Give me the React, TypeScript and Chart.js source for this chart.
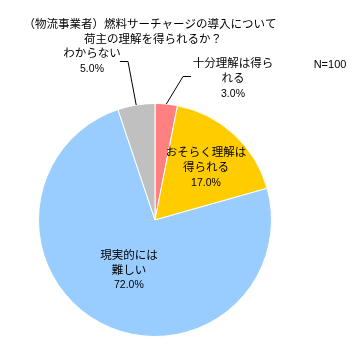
import React, { useEffect, useRef } from "react";
import { Chart, registerables } from "chart.js";

Chart.register(...registerables);

const categories = ["十分理解は得られる", "おそらく理解は得られる", "現実的には難しい", "わからない"];
const values = [3.0, 17.0, 72.0, 5.0];
const colors = ["#FF8080", "#FFCC00", "#99CCFF", "#C0C0C0"];
const titleLines = ["（物流事業者）燃料サーチャージの導入について", "荷主の理解を得られるか？"];
const labelLines = [
  ["十分理解は得ら", "れる"],
  ["おそらく理解は", "得られる"],
  ["現実的には", "難しい"],
  ["わからない"],
];
const note = "N=100";

const FONT = '"Noto Sans CJK JP", "Noto Sans", sans-serif';
const NUMFONT = '"Liberation Sans", Arial, sans-serif';

const textPlugin = {
  id: "texts",
  afterDraw(chart: any) {
    const ctx = chart.ctx;
    const meta = chart.getDatasetMeta(0);
    ctx.save();
    ctx.fillStyle = "#000";
    ctx.textAlign = "center";
    ctx.textBaseline = "middle";
    // title
    ctx.font = `11.5px ${FONT}`;
    ctx.fillText(titleLines[0], 150, 24);
    ctx.fillText(titleLines[1], 153, 39);
    // note
    ctx.font = `11px ${NUMFONT}`;
    ctx.fillText(note, 330, 65);

    const arc = (i: number) => meta.data[i];
    const pct = (i: number) => values[i].toFixed(1) + "%";

    const drawBlock = (lines: string[], p: string, x: number, y: number) => {
      ctx.font = `11.5px ${FONT}`;
      lines.forEach((l, k) => ctx.fillText(l, x, y + k * 15));
      ctx.font = `10.5px ${NUMFONT}`;
      ctx.fillText(p, x, y + lines.length * 15 + 1);
    };

    const a1 = arc(1);
    const cx = a1.x, cy = a1.y, r = a1.outerRadius;
    const pos = (i: number, frac: number) => {
      const el = arc(i);
      const mid = (el.startAngle + el.endAngle) / 2;
      return { x: cx + Math.cos(mid) * r * frac, y: cy + Math.sin(mid) * r * frac };
    };
    const p1 = pos(1, 0.62);
    drawBlock(labelLines[1], pct(1), p1.x + 2, p1.y - 15);
    const p2 = pos(2, 0.48);
    drawBlock(labelLines[2], pct(2), p2.x, p2.y - 15);

    const a0 = arc(0);
    const a3 = arc(3);
    const edge = (el: any) => {
      const mid = (el.startAngle + el.endAngle) / 2;
      return { x: cx + Math.cos(mid) * r, y: cy + Math.sin(mid) * r };
    };
    ctx.strokeStyle = "#000";
    ctx.lineWidth = 1;
    const e0 = edge(a0);
    ctx.beginPath();
    ctx.moveTo(e0.x, e0.y);
    ctx.lineTo(183, 76.5);
    ctx.lineTo(191, 76.5);
    ctx.stroke();
    drawBlock(labelLines[0], pct(0), 233, 63);

    const e3 = edge(a3);
    ctx.beginPath();
    ctx.moveTo(e3.x, e3.y);
    ctx.lineTo(128, 61.5);
    ctx.lineTo(120, 61.5);
    ctx.stroke();
    drawBlock(labelLines[3], pct(3), 92, 53);
    ctx.restore();
  },
};

export default function App() {
  const ref = useRef<HTMLCanvasElement>(null);
  useEffect(() => {
    const chart = new Chart(ref.current!, {
      type: "pie",
      data: {
        labels: categories,
        datasets: [
          {
            data: values,
            backgroundColor: colors,
            borderColor: "#ffffff",
            borderWidth: 1,
          },
        ],
      },
      options: {
        responsive: false,
        animation: false,
        layout: { padding: { left: 38, right: 91, top: 103, bottom: 17 } },
        plugins: {
          legend: { display: false },
          title: { display: false },
          tooltip: { enabled: false },
        },
      },
      plugins: [textPlugin],
    });
    return () => chart.destroy();
  }, []);
  return (
    <div style={{ position: "fixed", left: 0, top: 0, width: 363, height: 354, background: "#fff" }}>
      <canvas ref={ref} width={363} height={354} />
    </div>
  );
}
